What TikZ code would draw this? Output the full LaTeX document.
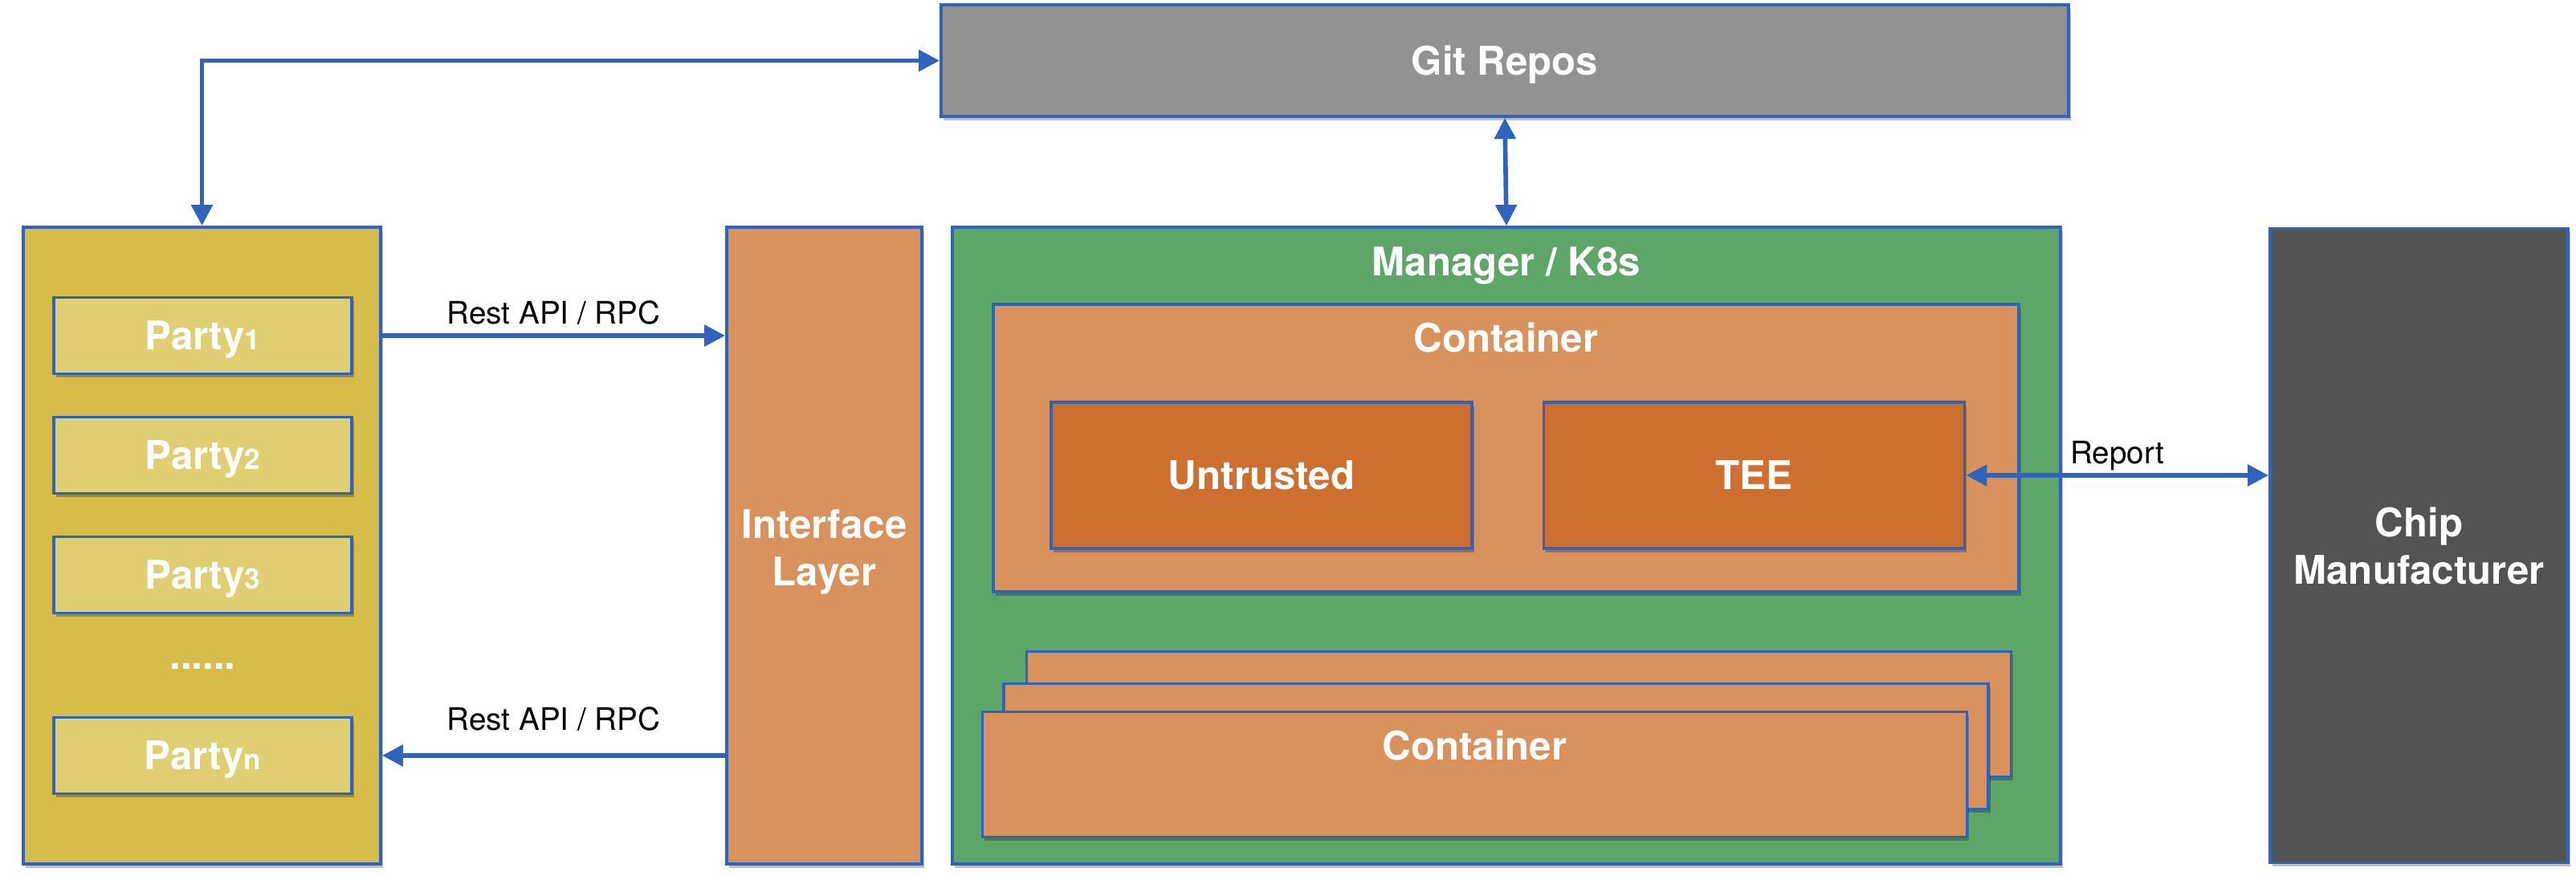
\documentclass[tikz,border=0pt]{standalone}
\usepackage{fontspec}
\setmainfont{TeX Gyre Heros}
\usepackage{xcolor}
\usepackage{tikz}
\usetikzlibrary{arrows.meta,shadows}

\definecolor{edgeblue}{RGB}{46,100,190}
\definecolor{partybg}{RGB}{215,188,74}
\definecolor{partyfg}{RGB}{224,207,114}
\definecolor{layerorange}{RGB}{218,146,92}
\definecolor{managergreen}{RGB}{94,166,104}
\definecolor{enclaveorange}{RGB}{205,111,47}
\definecolor{gitgray}{RGB}{146,146,146}
\definecolor{chipgray}{RGB}{83,83,83}

\newcommand{\partyidx}[1]{{\fontsize{10}{12}\selectfont #1}}

\tikzset{
    box/.style={draw=edgeblue, line width=1.1pt, rectangle, inner sep=0pt,
        drop shadow={shadow xshift=0.8pt, shadow yshift=-1.4pt, fill=black, opacity=0.25}},
    title/.style={text=white, font=\fontsize{14}{16.8}\selectfont\bfseries, align=center},
    oneline/.style={text height=10pt, text depth=0pt},
    lbl/.style={text=black, font=\fontsize{11}{13}\selectfont, inner sep=2pt},
    link/.style={draw=edgeblue, line width=1.6pt},
    party/.style={box, title, oneline, fill=partyfg, minimum width=3.71cm, minimum height=0.95cm},
    stacked/.style={box, fill=layerorange, minimum width=12.26cm, minimum height=1.56cm}
}

\begin{document}
\begin{tikzpicture}[node distance=1.49cm, >={Triangle[length=2.6mm, width=2.6mm]}]
        \useasboundingbox (0,0) rectangle (32.08,10.90);
        \node[box, title, oneline, fill=gitgray, minimum width=14.04cm, minimum height=1.39cm] (git) at (18.74,10.145) {Git Repos};
        \node[box, fill=partybg, minimum width=4.45cm, minimum height=7.93cm] (parties) at (2.515,4.105) {};
        \node[party] (party1) at (2.525,6.72) {Party\partyidx{1}};
        \node[party, below of=party1] (party2) {Party\partyidx{2}};
        \node[party, below of=party2] (party3) {Party\partyidx{3}};
        \node[title, below of=party3, yshift=0.35cm] (dots) {......};
        \node[party, below of=party3, yshift=-0.76cm] (partyn) {Party\partyidx{n}};
        \node[box, fill=layerorange, minimum width=2.43cm, minimum height=7.93cm] (iface) at (10.265,4.105) {};
        \node[title] (ifacelabel) at (10.265,4.025) {Interface\\Layer};
        \node[box, fill=managergreen, minimum width=13.80cm, minimum height=7.93cm] (manager) at (18.76,4.105) {};
        \node[title, anchor=base] (managerlabel) at (18.76,7.465) {Manager / K8s};
        \node[box, fill=layerorange, minimum width=12.77cm, minimum height=3.58cm] (container) at (18.755,5.32) {};
        \node[title, anchor=base] (containerlabel) at (18.755,6.52) {Container};
        \node[box, title, oneline, fill=enclaveorange, minimum width=5.24cm, minimum height=1.82cm] (untrusted) at (15.71,4.98) {Untrusted};
        \node[box, title, oneline, fill=enclaveorange, minimum width=5.24cm, minimum height=1.82cm, right of=untrusted, xshift=4.645cm] (tee) {TEE};
        \node[stacked] (stackback) at (18.915,2.005) {};
        \node[stacked] (stackmid) at (18.63,1.605) {};
        \node[stacked] (stackfront) at (18.365,1.255) {};
        \node[title, anchor=base] (stacklabel) at (18.365,1.433) {Container};
        \node[box, title, fill=chipgray, minimum width=3.71cm, minimum height=7.9cm] (chip) at (30.125,4.105) {Chip\\Manufacturer};
        \draw[link, <->] (parties.north) |- (git.west);
        \draw[link, <->] (git.south) -- (manager.north);
        \draw[link, ->] (parties.east |- party1) -- (iface.west |- party1) node[midway, above=1pt, lbl] {Rest API / RPC};
        \draw[link, ->] (iface.west |- partyn) -- (parties.east |- partyn) node[midway, above=6pt, lbl] {Rest API / RPC};
        \draw[link, <->] (tee.east) -- (chip.west |- tee.east) node[midway, above=-1pt, lbl] {Report};
    \end{tikzpicture}
\end{document}
